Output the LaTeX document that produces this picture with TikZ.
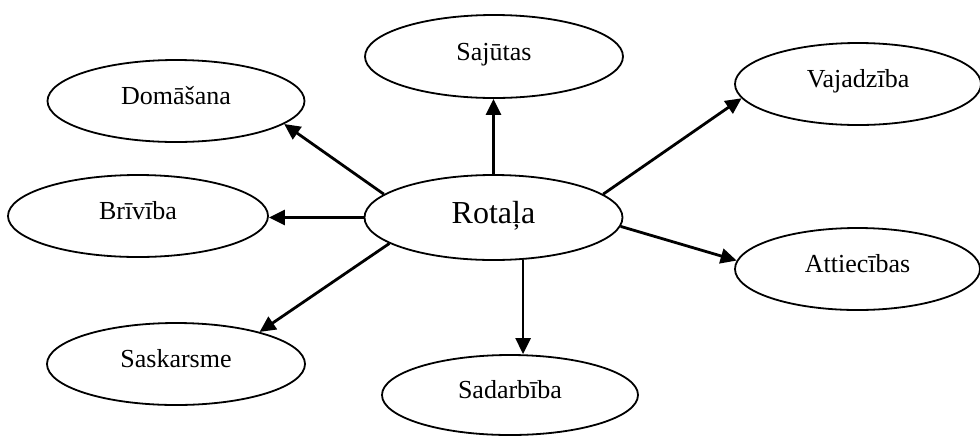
\documentclass[tikz,border=0pt]{standalone}
\usepackage{fontspec}
\setmainfont{Liberation Serif}
\usetikzlibrary{shapes.geometric,arrows.meta,calc}
\tikzset{
  oval/.style={ellipse, draw=black, line width=0.9pt, inner sep=0pt,
    font=\fontsize{13pt}{15pt}\selectfont, text height=9pt, text depth=5.4pt},
  bigoval/.style={oval, font=\fontsize{16pt}{19pt}\selectfont, text height=11pt, text depth=5.4pt},
  arr/.style={line width=1.4pt, -{Triangle[length=8pt,width=7.5pt]}}
}
\begin{document}
\begin{tikzpicture}[x=0.5pt,y=-0.5pt]
\useasboundingbox (0,0) rectangle (980,435);
\node[bigoval, minimum width=129pt, minimum height=42.5pt] (rot) at (493.5,217.5) {Rotaļa};
\node[oval, minimum width=128.5pt, minimum height=41pt] (dom) at (176,101) {Domāšana};
\node[oval, minimum width=129pt, minimum height=41.5pt] (saj) at (494,56.5) {Sajūtas};
\node[oval, minimum width=123pt, minimum height=41pt] (vaj) at (858,84) {Vajadzība};
\node[oval, minimum width=130pt, minimum height=41pt] (bri) at (138,216) {Brīvība};
\node[oval, minimum width=122.5pt, minimum height=41pt] (att) at (857.5,269) {Attiecības};
\node[oval, minimum width=129pt, minimum height=41pt] (sas) at (176,364) {Saskarsme};
\node[oval, minimum width=128pt, minimum height=40pt] (sad) at (510,395) {Sadarbība};
\draw[arr] (rot.168) -- (dom.-12);
\draw[arr] (rot.west) -- (rot.west -| bri.east);
\draw[arr] (rot.194) -- (sas.21);
\draw[arr] (rot.north) -- (rot.north |- saj.south);
\draw[arr] (rot.12) -- (vaj.187);
\draw[arr] (rot.-4) -- (att.176);
\draw[arr] (rot.-55) -- (rot.-55 |- sad.north);
\end{tikzpicture}
\end{document}
